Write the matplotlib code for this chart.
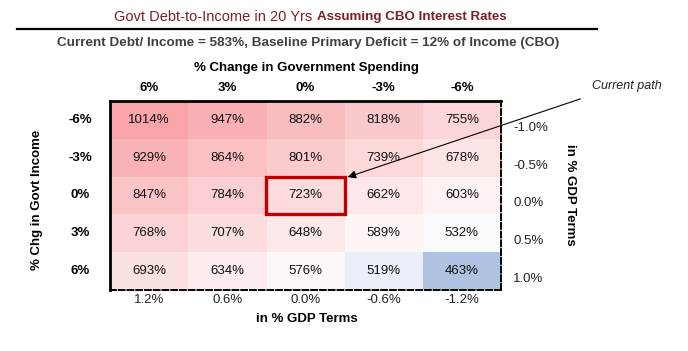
import matplotlib
matplotlib.use('Agg')
import matplotlib.pyplot as plt
from matplotlib import font_manager
from matplotlib.colors import LinearSegmentedColormap, TwoSlopeNorm
from matplotlib.patches import Rectangle
import numpy as np

# data
spend_labels = ['6%', '3%', '0%', '-3%', '-6%']
income_labels = ['-6%', '-3%', '0%', '3%', '6%']
spend_gdp = ['1.2%', '0.6%', '0.0%', '-0.6%', '-1.2%']
income_gdp = ['-1.0%', '-0.5%', '0.0%', '0.5%', '1.0%']
debt_row1 = [1014, 947, 882, 818, 755]
debt_row2 = [929, 864, 801, 739, 678]
debt_row3 = [847, 784, 723, 662, 603]
debt_row4 = [768, 707, 648, 589, 532]
debt_row5 = [693, 634, 576, 519, 463]
current_row, current_col = 2, 2

vals = np.array([debt_row1, debt_row2, debt_row3, debt_row4, debt_row5])

names = {f.name for f in font_manager.fontManager.ttflist}
narrow = 'Liberation Sans Narrow' if 'Liberation Sans Narrow' in names else 'Liberation Sans'
plt.rcParams['font.family'] = ['Liberation Sans', 'DejaVu Sans']

W, H = 688, 351
fig = plt.figure(figsize=(W / 100, H / 100), dpi=100)


def px(x, y):
    return x / W, 1 - y / H


# heatmap axes
l, r, t, b = 110, 501, 101, 290
ax = fig.add_axes([l / W, 1 - b / H, (r - l) / W, (b - t) / H])
cmap = LinearSegmentedColormap.from_list('rb', ['#adc3e1', '#ffffff', '#f8a4a8'])
norm = TwoSlopeNorm(vmin=vals.min(), vcenter=538, vmax=vals.max())
ax.imshow(vals, cmap=cmap, norm=norm, aspect='auto')
for i in range(vals.shape[0]):
    for j in range(vals.shape[1]):
        ax.text(j, i, f'{vals[i, j]}%', ha='center', va='center', fontsize=9.5, color='#111111')
ax.add_patch(Rectangle((current_col - 0.5, current_row - 0.5), 1, 1, fill=False,
                       edgecolor='#c00000', lw=2.4, zorder=5))
ax.set_xticks([])
ax.set_yticks([])
for s in ['left', 'top']:
    ax.spines[s].set_linewidth(2)
for s in ['right', 'bottom']:
    ax.spines[s].set_linewidth(1.4)
    ax.spines[s].set_linestyle((0, (3, 1.5)))

# column / row labels
for j, lab in enumerate(spend_labels):
    xc = l + (j + 0.5) * (r - l) / 5
    fig.text(*px(xc, 88), lab, ha='center', va='center', fontsize=9.5, fontweight='bold')
    fig.text(*px(xc, 300), spend_gdp[j], ha='center', va='center', fontsize=9.5, color='#222222')
for i, lab in enumerate(income_labels):
    yc = t + (i + 0.5) * (b - t) / 5
    fig.text(*px(80, yc), lab, ha='center', va='center', fontsize=9.5, fontweight='bold')
    fig.text(*px(513, yc + 8), income_gdp[i], ha='left', va='center', fontsize=9.5, color='#222222')

fig.text(*px(306, 68), '% Change in Government Spending', ha='center', va='center',
         fontsize=9.5, fontweight='bold')
fig.text(*px(37, 200), '% Chg in Govt Income', ha='center', va='center', rotation=90,
         fontsize=9.5, fontweight='bold')
fig.text(*px(570, 195), 'in % GDP Terms', ha='center', va='center', rotation=-90,
         fontsize=9.5, fontweight='bold')
fig.text(*px(307, 319), 'in % GDP Terms', ha='center', va='center', fontsize=9.5, fontweight='bold')

# header
fig.text(*px(312, 17), 'Govt Debt-to-Income in 20 Yrs', ha='right', va='center',
         fontsize=10.5, color='#7a1f2b', family=narrow)
fig.text(*px(317, 17), 'Assuming CBO Interest Rates', ha='left', va='center',
         fontsize=9.6, color='#7a1f2b', fontweight='bold', family=narrow)
fig.add_artist(plt.Line2D([17 / W, 597 / W], [1 - 29 / H, 1 - 29 / H], color='black', lw=1.6))
fig.text(*px(308, 43), 'Current Debt/ Income = 583%, Baseline Primary Deficit = 12% of Income (CBO)',
         ha='center', va='center', fontsize=9.7, color='#404040', fontweight='bold', family=narrow)

# annotation
fig.text(*px(592, 86), 'Current path', ha='left', va='center', fontsize=9, style='italic',
         color='#222222')
ax.annotate('', xy=px(345, 178), xycoords='figure fraction',
            xytext=px(583, 98), textcoords='figure fraction',
            arrowprops=dict(arrowstyle='-|>', color='black', lw=0.8, mutation_scale=12),
            annotation_clip=False)

fig.savefig('out.png', dpi=100)
